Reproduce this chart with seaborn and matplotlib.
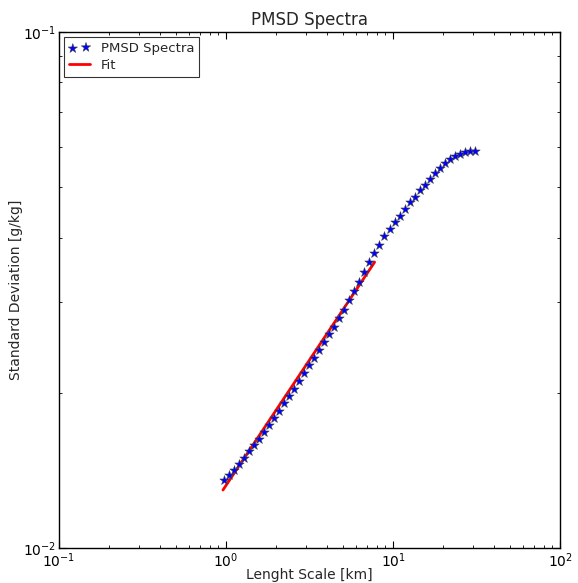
import numpy as np
import pandas as pd
import matplotlib
matplotlib.use("Agg")
import matplotlib.pyplot as plt
import matplotlib.ticker as mticker
import seaborn as sns

# length scale [km] and PMSD std dev [g/kg]
length_km = [0.9674, 1.0368, 1.1112, 1.1910, 1.2764, 1.3680, 1.4662, 1.5714, 1.6843, 1.8051,
             1.9347, 2.0736, 2.2223, 2.3818, 2.5527, 2.7360, 2.9323, 3.1428, 3.3683, 3.6101,
             3.8692, 4.1469, 4.4445, 4.7635, 5.1052, 5.4716, 5.8643, 6.2852, 6.7363, 7.2197,
             7.7379, 8.2932, 8.8884, 9.5262, 10.210, 10.943, 11.728, 12.570, 13.472, 14.439,
             15.475, 16.586, 17.776, 19.052, 20.417, 21.883, 23.453, 25.137, 26.940, 28.874,
             30.946]
std_dev = [0.01354, 0.01386, 0.01420, 0.01458, 0.01495, 0.01541, 0.01582, 0.01627, 0.01679, 0.01730,
           0.01787, 0.01847, 0.01908, 0.01971, 0.02037, 0.02107, 0.02185, 0.02261, 0.02339, 0.02423,
           0.02508, 0.02597, 0.02688, 0.02794, 0.02899, 0.03022, 0.03151, 0.03285, 0.03424, 0.03581,
           0.03733, 0.03873, 0.04018, 0.04153, 0.04284, 0.04406, 0.04540, 0.04683, 0.04801, 0.04947,
           0.05065, 0.05196, 0.05329, 0.05463, 0.05586, 0.05680, 0.05748, 0.05815, 0.05859, 0.05885,
           0.05893]

# power-law fit, end points
fit_x = [0.959, 7.757]
fit_y = [0.01297, 0.03584]

df = pd.DataFrame({"x": length_km, "y": std_dev})
df_fit = pd.DataFrame({"x": fit_x, "y": fit_y})

sns.set_style("white")
plt.rcParams["font.family"] = ["DejaVu Sans"]
plt.rcParams["xtick.direction"] = "in"
plt.rcParams["ytick.direction"] = "in"

fig = plt.figure(figsize=(5.78, 5.83), dpi=100)
ax = fig.add_axes([0.102, 0.0595, 0.867, 0.8855])

sns.scatterplot(data=df, x="x", y="y", marker="*", s=50, color="blue",
                edgecolor="#444444", linewidth=0.4, label="PMSD Spectra", ax=ax, zorder=3)
sns.lineplot(data=df_fit, x="x", y="y", color="red", linewidth=2, label="Fit", ax=ax,
             estimator=None, sort=False, zorder=2)

ax.set_xscale("log")
ax.set_yscale("log")
ax.set_xlim(0.1, 100)
ax.set_ylim(0.01, 0.1)
ax.xaxis.set_minor_formatter(mticker.NullFormatter())
ax.yaxis.set_minor_formatter(mticker.NullFormatter())

ax.set_title("PMSD Spectra", fontsize=12, pad=5)
ax.set_xlabel("Lenght Scale [km]", fontsize=10, labelpad=-1)
ax.set_ylabel("Standard Deviation [g/kg]", fontsize=10, labelpad=0)

for s in ax.spines.values():
    s.set_color("black")
    s.set_linewidth(1)
ax.tick_params(which="both", direction="in", top=True, right=True, bottom=True, left=True,
               labelsize=10, colors="black")
ax.tick_params(which="major", length=5, width=0.8, pad=2)
ax.tick_params(which="minor", length=2.5, width=0.6)

leg = ax.legend(loc="upper left", scatterpoints=2, fontsize=9.5, fancybox=False,
                frameon=True, borderaxespad=0.4, handlelength=1.6, handletextpad=0.8,
                labelspacing=0.3, borderpad=0.35)
leg.get_frame().set_edgecolor("black")
leg.get_frame().set_linewidth(0.8)

fig.savefig("out.png", dpi=100)
